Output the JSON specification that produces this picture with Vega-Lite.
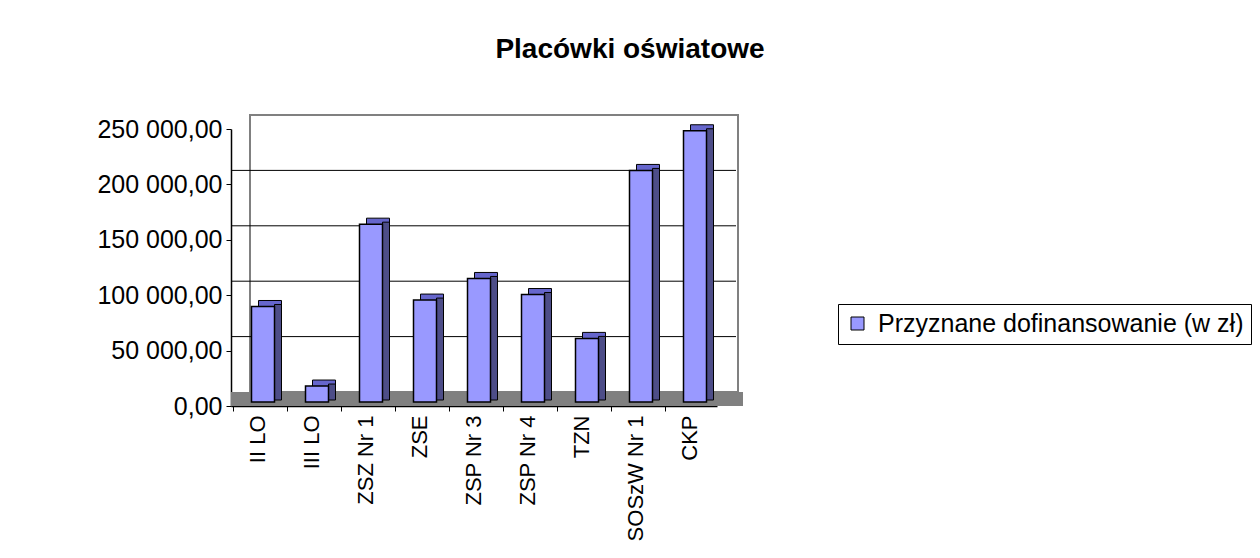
{
  "$schema": "https://vega.github.io/schema/vega-lite/v6.json",
  "autosize": {"type": "none"},
  "padding": {"left": 231, "top": 129, "right": 543, "bottom": 152},
  "width": 486,
  "height": 277,
  "background": "white",
  "config": {
    "font": "Liberation Sans",
    "view": {"stroke": null},
    "locale": {"number": {"decimal": ",", "thousands": " ", "grouping": [3], "currency": ["", ""]}}
  },
  "title": {
    "text": "Placówki oświatowe",
    "fontSize": 28,
    "fontWeight": "bold",
    "color": "black",
    "font": "Liberation Sans",
    "anchor": "middle",
    "dx": 156,
    "offset": 50
  },
  "data": {
    "values": [
      {"placowka": "II LO", "kwota": 86200},
      {"placowka": "III LO", "kwota": 14400},
      {"placowka": "ZSZ Nr 1", "kwota": 160500},
      {"placowka": "ZSE", "kwota": 92000},
      {"placowka": "ZSP Nr 3", "kwota": 111500},
      {"placowka": "ZSP Nr 4", "kwota": 97000},
      {"placowka": "TZN", "kwota": 57400},
      {"placowka": "SOSzW Nr 1", "kwota": 209000},
      {"placowka": "CKP", "kwota": 244800}
    ]
  },
  "layer": [
    {
      "mark": {"type": "rect", "fill": "#808080", "stroke": null, "x2Offset": 26, "y2Offset": -14},
      "encoding": {
        "x": {"value": 0},
        "x2": {"value": "width"},
        "y": {"datum": 0, "type": "quantitative"},
        "y2": {"datum": 0}
      }
    },
    {
      "mark": {"type": "rect", "fill": null, "stroke": "#808080", "strokeWidth": 1.5, "xOffset": 19, "x2Offset": 21, "yOffset": -14, "y2Offset": -14},
      "encoding": {
        "x": {"value": 0},
        "x2": {"value": "width"},
        "y": {"datum": 0, "type": "quantitative"},
        "y2": {"datum": 250000}
      }
    },
    {
      "data": {"values": [{"g": 50000}, {"g": 100000}, {"g": 150000}, {"g": 200000}]},
      "mark": {"type": "rule", "color": "black", "strokeWidth": 1, "xOffset": 19, "x2Offset": 21, "yOffset": -14},
      "encoding": {
        "y": {"field": "g", "type": "quantitative"}
      }
    },
    {
      "mark": {"type": "bar", "size": 23, "fill": "#6666cc", "stroke": "black", "strokeWidth": 1, "xOffset": 12, "yOffset": -10, "y2Offset": -10},
      "encoding": {
        "x": {"field": "placowka", "type": "nominal", "sort": null},
        "y": {"field": "kwota", "type": "quantitative"}
      }
    },
    {
      "mark": {"type": "bar", "size": 7, "fill": "#4d4d88", "stroke": "black", "strokeWidth": 1, "xOffset": 20, "yOffset": -6, "y2Offset": -9},
      "encoding": {
        "x": {"field": "placowka", "type": "nominal", "sort": null},
        "y": {"field": "kwota", "type": "quantitative"}
      }
    },
    {
      "mark": {"type": "bar", "size": 23, "stroke": "black", "strokeWidth": 1.5, "xOffset": 5, "yOffset": -4, "y2Offset": -4},
      "encoding": {
        "x": {
          "field": "placowka",
          "type": "nominal",
          "sort": null,
          "title": null,
          "axis": {
            "bandPosition": 0,
            "labelAngle": -90,
            "labelFontSize": 22,
            "labelColor": "black",
            "labelPadding": 4,
            "tickColor": "black",
            "tickSize": 5,
            "domainColor": "black",
            "domainWidth": 1.5
          }
        },
        "y": {
          "field": "kwota",
          "type": "quantitative",
          "title": null,
          "scale": {"domain": [0, 250000], "nice": false},
          "axis": {
            "values": [0, 50000, 100000, 150000, 200000, 250000],
            "format": ",.2f",
            "grid": false,
            "labelFontSize": 25,
            "labelColor": "black",
            "labelPadding": 4,
            "tickColor": "black",
            "tickSize": 5,
            "domainColor": "black",
            "domainWidth": 1.5
          }
        },
        "color": {
          "datum": "Przyznane dofinansowanie (w zł)",
          "scale": {"range": ["#9999ff"]},
          "legend": {
            "title": null,
            "orient": "none",
            "legendX": 607,
            "legendY": 175,
            "strokeColor": "black",
            "fillColor": "white",
            "padding": 7,
            "symbolType": "square",
            "symbolSize": 169,
            "symbolStrokeColor": "black",
            "symbolStrokeWidth": 1,
            "labelFontSize": 25,
            "labelLimit": 1000,
            "labelColor": "black",
            "labelOffset": 8
          }
        }
      }
    }
  ]
}
